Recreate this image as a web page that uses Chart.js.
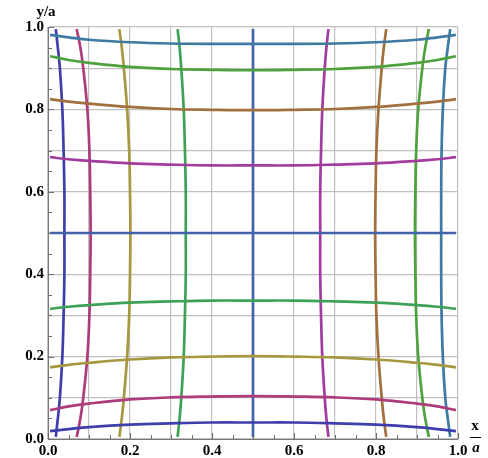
<!DOCTYPE html>
<html>
<head>
<meta charset="utf-8">
<script src="https://cdn.jsdelivr.net/npm/chart.js@4/dist/chart.umd.min.js"></script>
<style>
  body { margin: 0; background: #fff; }
  #wrap { width: 488px; height: 458px; position: relative; }
</style>
</head>
<body>
<div id="wrap"><canvas id="grid"></canvas></div>
<script>
/*-------------------- DATA --------------------*/
// position along each curve (x for the horizontal family, y for the vertical one)
let along = [0.005, 0.05, 0.1, 0.2, 0.3, 0.4, 0.5, 0.6, 0.7, 0.8, 0.9, 0.95, 0.995];

// offset of each curve, same profile for both families
let curveIndigo  = [0.019, 0.024, 0.029, 0.035, 0.038, 0.040, 0.040, 0.040, 0.038, 0.035, 0.029, 0.024, 0.019];
let curveMagenta = [0.070, 0.079, 0.086, 0.096, 0.101, 0.103, 0.104, 0.103, 0.101, 0.096, 0.086, 0.079, 0.070];
let curveOlive   = [0.174, 0.180, 0.185, 0.193, 0.198, 0.200, 0.201, 0.200, 0.198, 0.193, 0.185, 0.180, 0.174];
let curveGreen   = [0.316, 0.321, 0.325, 0.331, 0.334, 0.336, 0.336, 0.336, 0.334, 0.331, 0.325, 0.321, 0.316];
let curveBlue    = [0.500, 0.500, 0.500, 0.500, 0.500, 0.500, 0.500, 0.500, 0.500, 0.500, 0.500, 0.500, 0.500];
let curvePurple  = [0.684, 0.679, 0.675, 0.669, 0.666, 0.664, 0.664, 0.664, 0.666, 0.669, 0.675, 0.679, 0.684];
let curveBrown   = [0.825, 0.819, 0.814, 0.806, 0.801, 0.799, 0.798, 0.799, 0.801, 0.806, 0.814, 0.819, 0.825];
let curveGreen2  = [0.929, 0.920, 0.913, 0.903, 0.898, 0.896, 0.895, 0.896, 0.898, 0.903, 0.913, 0.920, 0.929];
let curveTeal    = [0.981, 0.975, 0.969, 0.963, 0.960, 0.959, 0.959, 0.959, 0.960, 0.963, 0.969, 0.975, 0.981];

let curves = [curveIndigo, curveMagenta, curveOlive, curveGreen, curveBlue,
              curvePurple, curveBrown, curveGreen2, curveTeal];
let colors = ['rgb(62,62,172)', 'rgb(172,60,122)', 'rgb(166,152,62)', 'rgb(62,162,86)', 'rgb(66,98,172)',
              'rgb(162,60,158)', 'rgb(162,112,60)', 'rgb(78,162,62)', 'rgb(62,122,162)'];

let tickValues = [0, 0.2, 0.4, 0.6, 0.8, 1.0];
let tickLabels = ['0.0', '0.2', '0.4', '0.6', '0.8', '1.0'];

/*-------------------- PREPARATION --------------------*/
let datasets = [];
curves.forEach((c, i) => {
    datasets.push({
        data: along.map((t, k) => ({ x: t, y: c[k] })),
        borderColor: colors[i]
    });
});
curves.forEach((c, i) => {
    datasets.push({
        data: along.map((t, k) => ({ x: c[k], y: t })),
        borderColor: colors[i]
    });
});

let serif = '"Liberation Serif", "DejaVu Serif", serif';
let gridGray = 'rgb(192,192,192)';

function label(v) {
    let i = tickValues.findIndex(t => Math.abs(t - v) < 1e-6);
    return i >= 0 ? tickLabels[i] : '';
}
function gridColor(ctx) {
    let v = Math.round(ctx.tick.value * 100);
    return v % 10 === 0 ? gridGray : 'rgba(0,0,0,0)';
}

// short ticks pointing into the plot, plus the axis captions
let decorations = {
    id: 'decorations',
    afterDraw(chart) {
        let c = chart.ctx, xs = chart.scales.x, ys = chart.scales.y, a = chart.chartArea;
        c.save();
        c.strokeStyle = 'rgb(110,110,110)';
        c.lineWidth = 1;
        for (let k = 0; k <= 20; k++) {
            let v = k * 0.05;
            let len = (k % 4 === 0) ? 6 : 4;
            let px = Math.round(xs.getPixelForValue(v)) + 0.5;
            let py = Math.round(ys.getPixelForValue(v)) + 0.5;
            c.beginPath();
            c.moveTo(px, a.bottom); c.lineTo(px, a.bottom - len);
            c.moveTo(a.left, py); c.lineTo(a.left + len, py);
            c.stroke();
        }
        c.fillStyle = '#000';
        c.textAlign = 'center';
        c.font = 'bold 15px ' + serif;
        c.fillText('y/a', 46, 16);
        c.fillText('x', 475, 430);
        c.font = 'italic bold 15px ' + serif;
        c.fillText('a', 476, 452);
        c.beginPath();
        c.strokeStyle = '#000';
        c.moveTo(470, 437.5); c.lineTo(481, 437.5);
        c.stroke();
        c.restore();
    }
};

/*-------------------- CHART --------------------*/
let chart = new Chart(document.getElementById('grid'), {
    type: 'scatter',
    data: { datasets: datasets },
    options: {
        responsive: true,
        maintainAspectRatio: false,
        animation: false,
        showLine: true,
        layout: { padding: { top: 27, right: 30, left: 0, bottom: 0 } },
        elements: {
            point: { radius: 0 },
            line: { borderWidth: 2.7, tension: 0.4, fill: false }
        },
        plugins: { legend: { display: false }, tooltip: { enabled: false } },
        scales: {
            x: {
                min: 0, max: 1,
                afterFit: (s) => { s.height = 19; },
                ticks: {
                    stepSize: 0.05, autoSkip: false, maxRotation: 0, padding: 3,
                    color: '#000', font: { family: serif, size: 15, weight: 'bold' },
                    callback: label
                },
                grid: { color: gridColor, lineWidth: 1.2, drawTicks: false },
                border: { color: 'rgb(120,120,120)', width: 1 }
            },
            y: {
                min: 0, max: 1,
                afterFit: (s) => { s.width = 48; },
                ticks: {
                    stepSize: 0.05, autoSkip: false, padding: 4,
                    color: '#000', font: { family: serif, size: 15, weight: 'bold' },
                    callback: label
                },
                grid: { color: gridColor, lineWidth: 1.2, drawTicks: false },
                border: { color: 'rgb(120,120,120)', width: 1 }
            }
        }
    },
    plugins: [decorations]
});
</script>
</body>
</html>
